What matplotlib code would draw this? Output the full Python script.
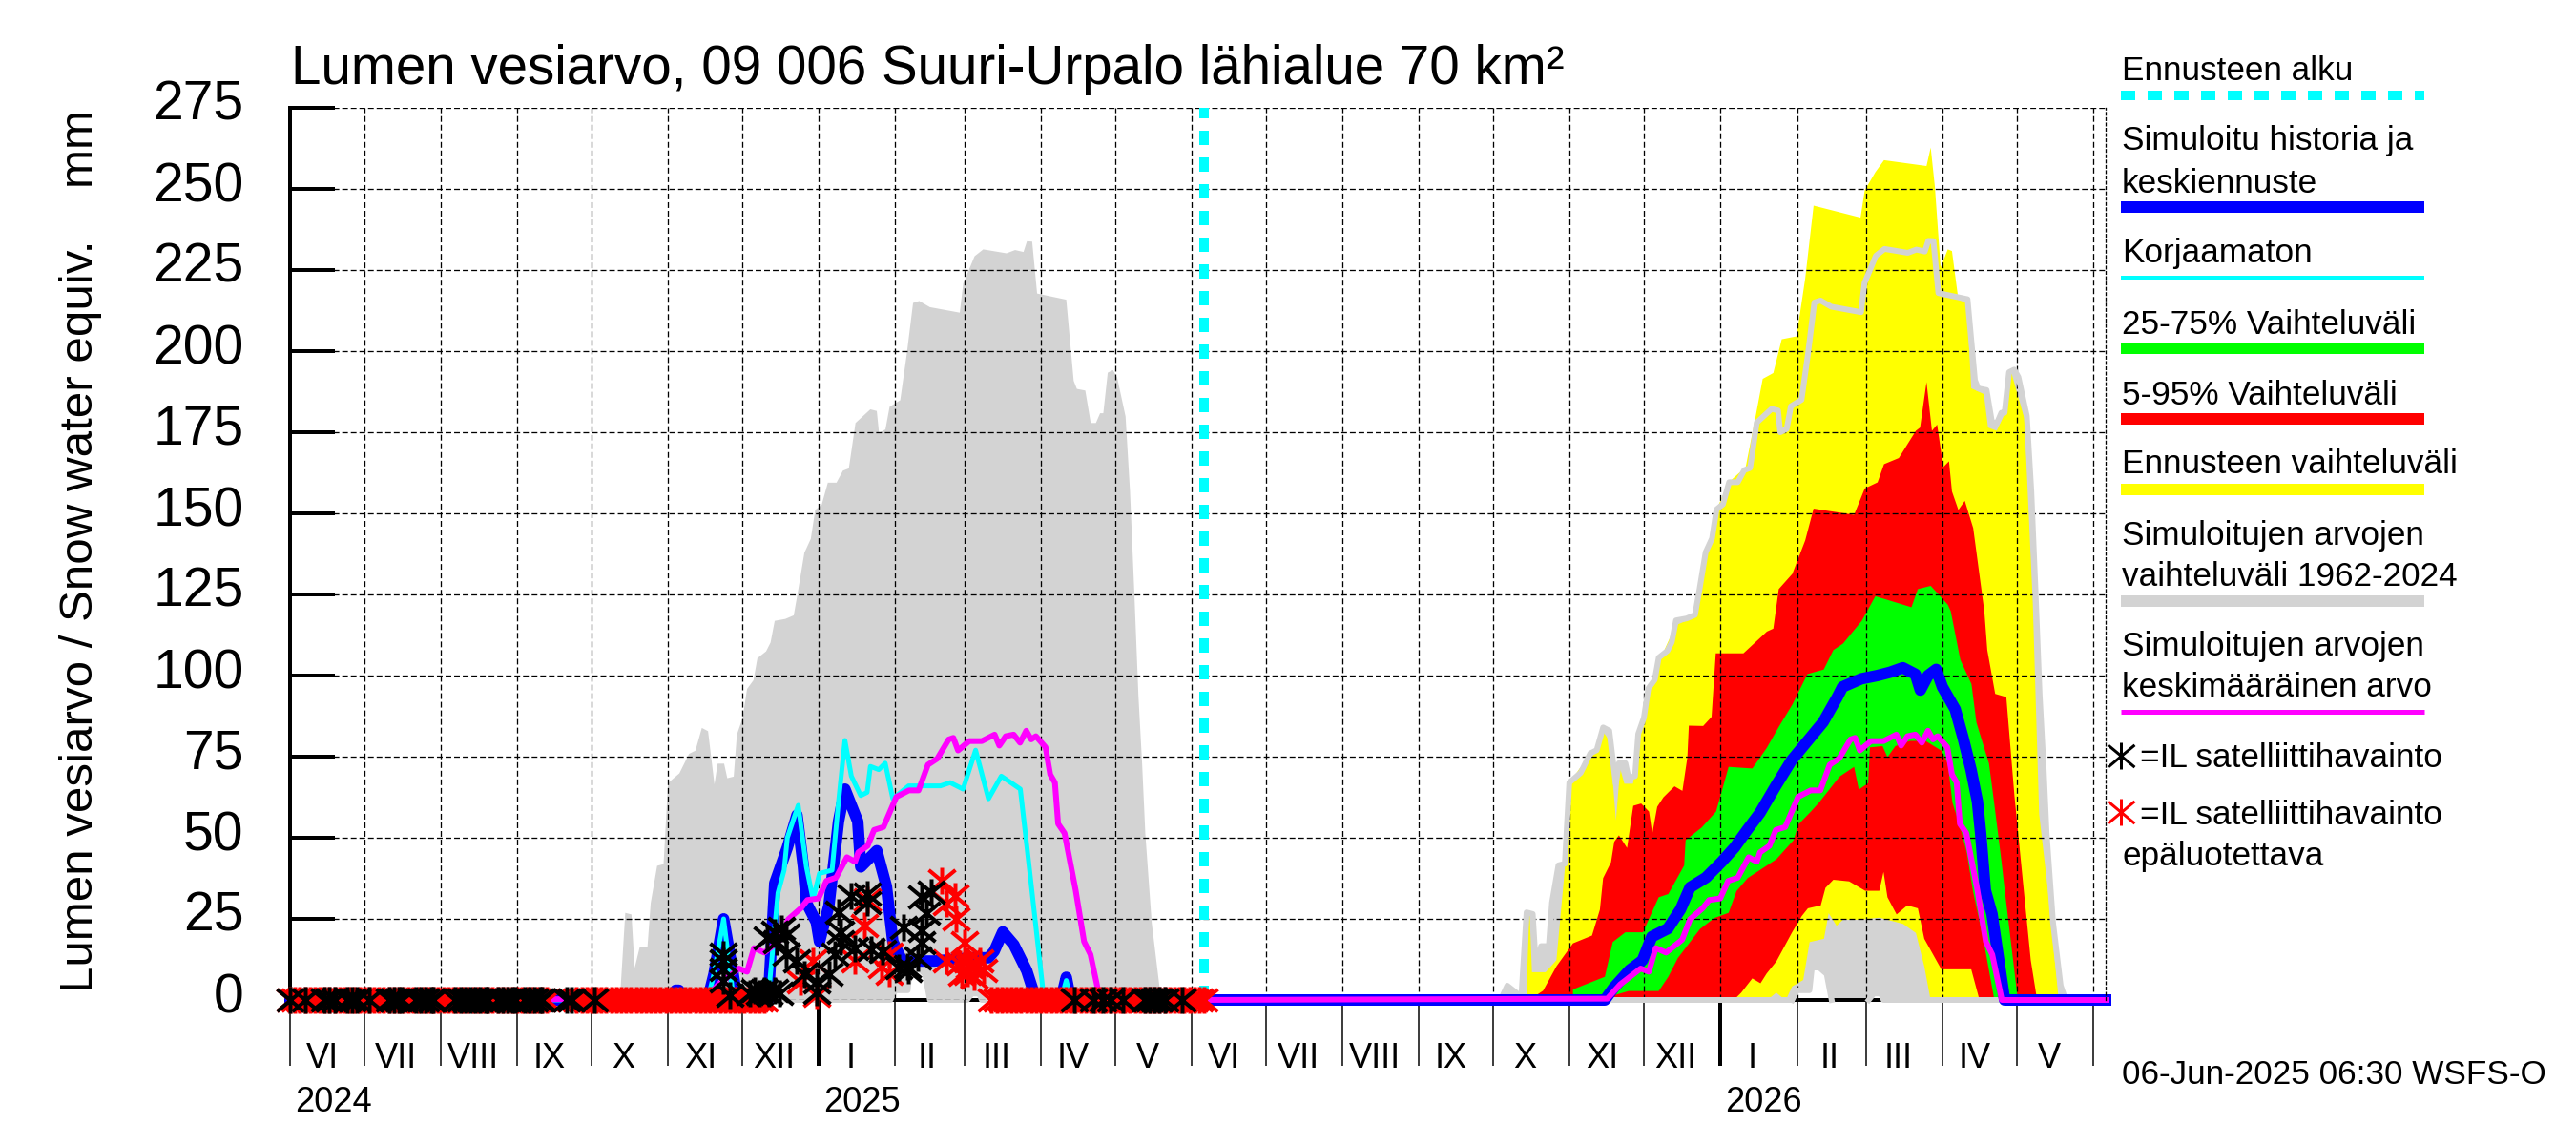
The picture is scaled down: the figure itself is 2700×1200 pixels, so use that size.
import matplotlib
matplotlib.use("Agg")
import matplotlib.pyplot as plt
from matplotlib.lines import Line2D
from matplotlib.path import Path
from matplotlib.transforms import ScaledTranslation

plt.rcParams["font.family"] = ["Liberation Sans", "DejaVu Sans"]
plt.rcParams["lines.scale_dashes"] = False

W, H = 2700, 1200
# asterisk of the original plot: wider diagonals than a regular six-arm star
STAR = Path([(0, -1), (0, 1), (-1, -0.83), (1, 0.83), (-1, 0.83), (1, -0.83)],
            [Path.MOVETO, Path.LINETO, Path.MOVETO, Path.LINETO, Path.MOVETO, Path.LINETO])

# x = days since 1 June 2024
month_days = [0, 30, 61, 92, 122, 153, 183, 214, 245, 273, 304, 334, 365, 395, 426, 457,
              487, 518, 548, 579, 610, 638, 669, 699, 730]
month_names = ["VI", "VII", "VIII", "IX", "X", "XI", "XII", "I", "II", "III", "IV", "V",
               "VI", "VII", "VIII", "IX", "X", "XI", "XII", "I", "II", "III", "IV", "V", "VI"]
year_days = [214, 579]
forecast_start = 370
x_end = 734.9

# simuloitujen arvojen vaihteluväli, upper edge (same for both years)
hist_days = [0, 125, 127.7, 133.4, 135.5, 138, 139.3, 141.4, 144.5, 145.8, 148.4, 151, 152.8, 157.4,
             161.3, 163.9, 166.5, 169, 171.6, 172.9, 175.5, 176.8, 179.4, 180.7, 183, 184.8, 187.4,
             189, 192.5, 194.3, 196, 200.3, 203.7, 205.5, 208, 210.6, 212.4, 215, 217.5, 221, 223.6,
             226, 228.7, 234.7, 237.3, 238.2, 240.8, 242.5, 246.8, 249.4, 252, 254.5, 258.8, 270.9,
             272.3, 276.9, 280.4, 289.8, 293.3, 296.7, 298.1, 300.2, 302.2, 314, 317, 318.3, 321.7,
             323.9, 326, 327.7, 329, 330.8, 332.9, 334.6, 338, 339.8, 341.5, 343.2, 344.7, 346,
             348.6, 351.7, 353.7]
hist_max = [0, 0, 4.4, 1, 27, 26.5, 10, 16.6, 16.6, 30, 41.5, 42, 67, 70,
            76, 77, 84, 83, 66.6, 73, 73, 68.5, 69, 82, 87, 96, 98.7,
            105.5, 107.6, 110.3, 117, 117.6, 118.7, 126.5, 138, 142.3, 151.2, 152.8, 159.6, 159.6, 163.3,
            164, 178, 182.2, 181.7, 175, 176, 183, 185, 199, 215, 215.6, 213.7, 212,
            221, 229.4, 231.5, 230.3, 231.3, 230.7, 234, 233.9, 217.9, 216, 191, 188.5, 188,
            178, 178, 181, 181, 193.5, 194.3, 192, 180, 157, 126.5, 94, 73, 51.4,
            23.9, 4.4, 0]
# lower edge, only lifts off zero in Feb-Mar
hist_min_days = [0, 243, 245, 250, 251, 254, 257, 259, 274, 276, 279, 280, 354]
hist_min = [0, 0, 3, 3, 10, 10, 8, 0, 0, 2, 2, 0, 0]

# ennusteen vaihteluväli
yellow_days = [500.3, 501.5, 502.5, 508, 512.4, 515.8, 517.5, 521.8, 527, 531.3, 533.9, 536.5, 538.2,
               539.9, 543.4, 546.8, 549.4, 554.5, 560.6, 569.2, 571.8, 576.1, 582.1, 589, 592.4, 595.9,
               600.2, 603.6, 609.6, 613.1, 616.5, 635.5, 637.2, 641.5, 645, 662.2, 663.9, 665.6, 667.9,
               669, 670.8, 672.5, 675.1, 678.5, 680.3, 685.4, 687.1, 690.6, 694, 696.6, 701.8, 705.2,
               707.8, 711.2, 715.6]
yellow_top = [3, 28, 8.7, 8.7, 12.4, 40.5, 66.8, 71.5, 75.2, 82.8, 80, 55.5, 71.5,
              66.8, 66.8, 85.6, 94, 105.3, 115.6, 118.4, 130.6, 149.4, 159.7, 164.4, 177.5, 191.6,
              193.4, 203.8, 204.7, 222.5, 245, 241.3, 249.7, 255.3, 259, 257.2, 262.9, 250.7, 226,
              228, 231.5, 231, 216, 215, 188.7, 186.9, 176.6, 175.6, 181, 193.4, 179.4, 123,
              57.4, 35, 1]
yellow_low_days = [500, 597.5, 601.4, 605.2, 607.8, 612.3, 614.9, 620.7, 622.6, 625.8, 628.4, 634.8,
                   643.2, 652.7, 657.9, 661.3, 663.9, 716]
yellow_low = [0, 0, 2.4, 0, 4.3, 6.3, 18, 19, 26.9, 23, 24.9, 24.9,
              25.5, 23.6, 20.8, 10.5, 0, 0]

# 5-95 %
red_days = [501, 507, 512.4, 519.1, 526.8, 530, 531.3, 534.5, 535.8, 537.7, 541, 543.5, 546.7, 549.9,
            551.2, 553.2, 555.7, 560.2, 563.4, 565.4, 566, 571.8, 575.2, 576.9, 588.1, 597.6, 600.2,
            602.4, 607.9, 613.1, 616.5, 632.9, 637.2, 642.4, 645, 651, 657.9, 659.6, 662.2, 664.4,
            666.5, 669, 671.3, 672.5, 675.1, 677.7, 681.1, 685.6, 686.8, 690, 694.5, 697.8, 701.6,
            704.4, 707]
red_top = [0, 3, 10.5, 17.6, 20, 28, 37.7, 42.6, 48.9, 50.9, 47, 60, 60.7, 58.2,
           51.4, 59.7, 62.6, 66, 64.6, 74.9, 84.7, 84.6, 87.4, 107, 107, 113.7, 114.6,
           126.8, 131.5, 141.8, 151.6, 149.7, 157.8, 159.7, 165.3, 167.2, 175.6, 176.6, 190.6, 175.6,
           177.5, 164.4, 166.2, 156.9, 151.2, 154, 145.6, 120, 108, 94.5, 93.5, 63, 33.8,
           12.4, 0]
red_low_days = [501, 584, 587.2, 591.7, 595, 597.5, 601.4, 607.8, 611.7, 614.2, 619.4, 621.3, 624.5,
                630.9, 637.4, 643.1, 644.8, 646.4, 650.1, 654.4, 658.7, 661.3, 668.2, 680.3, 683.7, 707]
red_low = [0, 0, 2.4, 6.8, 5.3, 8.3, 12, 21, 26, 28.4, 29.3, 34.7, 37.2,
           36.7, 33.8, 33.8, 39.6, 31.8, 26.5, 29.3, 28.4, 19, 9.6, 9.6, 0, 0]

# 25-75 %
green_days = [519.1, 532, 535.2, 540.3, 547.4, 553.8, 557.7, 564.1, 564.7, 571.2, 577, 582.1, 591.7, 597.5,
              602.7, 607.9, 614, 620.6, 624.5, 628.4, 636, 641.5, 648.4, 656.1, 658.7, 663.9, 670.8, 672,
              675.9, 680.4, 682.4, 687.5, 689.4, 692.6, 693.9, 699.2]
green_top = [3.4, 7.3, 18, 21, 21, 31.8, 32.8, 41.6, 49.4, 53.3, 58.2, 72, 71.5, 77.8,
             84.7, 91.2, 100.6, 102, 108, 110, 117, 124.6, 123, 121.2, 126.8, 127.8, 122, 120,
             105, 97.5, 85.7, 73, 62, 42.6, 33.8, 0]
green_low_days = [519.1, 532.6, 541.6, 553.8, 557.7, 561.5, 570.5, 576.3, 582.1, 585.3, 589.8, 601.4, 608.4,
                  610.4, 615.5, 618.7, 627, 632.9, 634.8, 638.6, 639.3, 644.4, 646.4, 649.6, 655.4, 661.8,
                  668.2, 670.8, 672.7, 676, 678.5, 681, 685.4, 689.7, 699.2]
green_low = [0, 0.9, 2.9, 2.9, 7.3, 13, 22, 25.4, 27, 33.7, 37.7, 43.5, 49.4,
             54.3, 58.3, 61, 69, 72, 65, 67, 78, 78.4, 75, 78.4, 80, 80,
             77, 73, 61, 53, 45.5, 33.8, 18, 0, 0]

# simuloitu historia ja keskiennuste
blue_days = [0, 154, 156.1, 157.4, 159, 169, 171.6, 175.5, 179.4, 181, 193.6, 196.2, 201.3, 205.2, 207.8,
             209, 213, 214.3, 218.1, 222, 224.6, 229.8, 231, 237.5, 241.4, 244, 247.8, 260.7, 276.2,
             282.7, 285, 288.5, 293, 298.2, 302, 312, 314.2, 316, 370,
             532.2, 535.8, 542.2, 547.4, 551.2, 557.7, 562.8, 566.7, 573.1, 579.5, 584.7, 589.8, 595,
             601.4, 607.8, 614.2, 620.6, 626.4, 628.4, 636, 642.5, 647.6, 652.8, 657.9, 659.9, 663,
             666.3, 668.8, 674, 677.2, 680.4, 683, 684.3, 686.2, 688.9, 694, x_end]
blue_vals = [0, 0, 3, 3, 0, 0, 8, 25, 8, 0, 0, 36, 47, 57, 41,
             30, 24, 18, 29, 55, 65, 55, 41, 46, 35, 18, 12, 12, 13,
             13, 15, 21, 17, 9, 0, 0, 7, 0, 0,
             0, 3.8, 9.2, 12.2, 19.5, 22, 27.9, 34.7, 37.7, 42.6, 47, 52.4, 57.7,
             66, 73.9, 79.8, 85.7, 93.5, 96.5, 99, 100, 101, 102.4, 100.4, 95.5, 100,
             101.9, 96.5, 89.6, 80.8, 71, 61.2, 51.4, 33.8, 26.5, 0, 0]

# korjaamaton
cyan_days = [0, 154, 156.1, 157.4, 159, 169, 171.6, 175.5, 179.4, 193.6, 197.5, 200, 201.3, 205.7, 209,
             211.7, 214.3, 219.4, 222, 224.6, 227.2, 231, 233.6, 234.9, 238.3, 240.9, 244, 250.4, 263.3,
             267.2, 272.4, 277.5, 282.7, 287.9, 295.6, 299.5, 305.2, 312, 314.2, 316, 370]
cyan_vals = [0, 0, 3, 3, 0, 0, 8, 25, 1, 1, 33, 40, 50, 60, 41,
             31, 39, 40, 61, 80, 69, 63, 64, 72, 71, 73, 62, 66, 66,
             67, 65, 77, 62, 69, 65, 39, 0, 0, 6, 0, 0]

# simuloitujen arvojen keskimääräinen arvo (same for both years)
mean_days = [0, 168.2, 173.4, 181.7, 185, 187.8, 192, 198.5, 201.7, 206.8, 209.4, 213.9, 217.1, 221, 225.4,
             228.7, 230, 233.8, 236.4, 240.2, 245.4, 250.5, 254.4, 258.2, 262, 266.6, 268.5, 270.4, 274.9,
             280, 285.2, 287.1, 289.7, 292.9, 295.5, 298, 300, 301.9, 305.8, 307.7, 309.6, 310.9, 313.5,
             316, 318, 321.4, 324, 327.9, 370]
mean_vals = [0, 0.4, 4.8, 9.7, 8.7, 16, 14.6, 18.6, 24.9, 28.3, 30.8, 31.3, 36.7, 37.7, 44,
             42.6, 45.5, 47.5, 52.4, 53.3, 62.6, 64.6, 64.6, 72.5, 74.4, 80.3, 80.8, 76.9, 79.8,
             79.8, 81.8, 78.4, 81.3, 81.8, 79.3, 83, 80.3, 81.3, 77.9, 69.5, 67, 54.3, 51.4,
             41.6, 33.8, 18, 14, 0, 0]

# satelliittihavainnot
black_zero_days = [0, 6, 14, 16, 18, 23, 25, 27, 32, 40, 42, 44, 45, 51, 53, 55, 57, 58, 67, 69, 71, 73,
                   75, 77, 79, 80, 84, 86, 88, 90, 91, 95, 97, 99, 101, 102, 112, 114, 123,
                   317.6, 325, 329, 332, 337, 346, 348, 350, 352, 354, 361]
black_days = [175.5, 175.5, 175.5, 175.5, 178, 186, 188, 190, 192, 194, 196, 198, 193, 196, 197, 199, 201,
              201, 205, 208, 213, 213, 218, 220.7, 223, 222, 227, 233.7, 233.6, 223, 228.5, 235,
              240, 246.5, 249.7, 250.4, 248.4, 255.5, 255.5, 254.2, 255.5, 259.4, 257.5]
black_vals = [14, 12, 9.5, 6, 1.5, 2, 3, 2, 3, 2, 3, 2, 19, 21, 18, 22, 20,
              14, 12, 8, 5.5, 2.5, 8, 14, 18, 27, 32, 32.7, 30, 21, 16, 15.6,
              15, 10, 10.2, 9.2, 22.4, 21.5, 17.6, 13, 31.8, 33.2, 26.9]
red_zero_days = [0, 2, 4, 6, 8, 10, 12, 14, 16, 18, 20, 22, 24, 26, 28, 30, 32, 34, 36, 38, 40, 42, 44, 46,
                 48, 50, 52, 54, 56, 58, 60, 62, 64, 66, 68, 70, 72, 74, 76, 78, 80, 82, 84, 86, 88, 90, 92,
                 94, 96, 98, 100, 102, 104, 116, 118, 120, 122, 124, 126, 128, 130, 132, 134, 136, 138, 140,
                 142, 144, 146, 148, 150, 152, 154, 156, 158, 160, 162, 164, 166, 168, 170, 172, 174, 176,
                 178, 180, 182, 184, 186, 188, 190, 192,
                 284, 286, 288, 290, 292, 294, 296, 298, 300, 302, 304, 306, 308, 310, 312, 314, 316, 318,
                 320, 322, 324, 326, 328, 330, 332, 334, 336, 338, 340, 342, 344, 346, 348, 350, 352, 354,
                 356, 358, 360, 362, 364, 366, 368, 370]
red_star_days = [263.9, 269, 265.8, 269.7, 272.9, 232.4, 233.6, 211.7, 206.5, 213, 228.5, 239.4, 242.7,
                 265.8, 274.8, 277.4, 280.6, 271, 279.3, 274.2, 274.2, 242.7, 277, 272]
red_star_vals = [36.7, 32.2, 29.8, 24.9, 17.6, 23, 31, 12, 5.5, 1.5, 12, 10.2, 8.2,
                 12.2, 10.2, 11, 9.2, 11.2, 12.2, 12.2, 8.2, 14, 7, 8]

y_ticks = [0, 25, 50, 75, 100, 125, 150, 175, 200, 225, 250, 275]

# legend: text rows and lines, (text, y centre in px)
legend_texts = [("Ennusteen alku", 75), ("Simuloitu historia ja", 148), ("keskiennuste", 192),
                ("Korjaamaton", 265), ("25-75% Vaihteluväli", 340), ("5-95% Vaihteluväli", 414),
                ("Ennusteen vaihteluväli", 487), ("Simuloitujen arvojen", 561),
                ("vaihteluväli 1962-2024", 604), ("Simuloitujen arvojen", 678),
                ("keskimääräinen arvo", 721), ("epäluotettava", 897)]
legend_lines = [(100, "cyan", 10), (217, "blue", 12), (291, "cyan", 4), (365, "lime", 12),
                (439, "red", 12), (513, "yellow", 12), (630, "lightgray", 12), (746, "magenta", 5)]

fig = plt.figure(figsize=(27, 12), dpi=100, facecolor="white")
ax = fig.add_axes([304 / W, 1 - 1048 / H, (2207 - 304) / W, (1048 - 113) / H])
ax.set_xlim(0, x_end)
ax.set_ylim(0, 275)
px = 0.72  # points per pixel

ax.axhline(0, color="black", lw=4 * px, zorder=0.5, clip_on=False)

hist_days2 = [d + 365 for d in hist_days]
hist_min_days2 = [d + 365 for d in hist_min_days]
mean_days2 = [d + 365 for d in mean_days]

# historic range first, then the forecast bands painted from the outside in
for days in (hist_days, hist_days2):
    ax.fill_between(days, hist_max, color="lightgray", lw=0, zorder=0.8)
ax.fill_between(yellow_days, yellow_top, color="yellow", lw=0, zorder=0.81)
ax.fill_between(red_days, red_top, color="red", lw=0, zorder=0.82)
ax.fill_between(green_days, green_top, color="lime", lw=0, zorder=0.83)
ax.fill_between(green_low_days, green_low, color="red", lw=0, zorder=0.84)
ax.fill_between(red_low_days, red_low, color="yellow", lw=0, zorder=0.85)
ax.fill_between(yellow_low_days, yellow_low, color="lightgray", lw=0, zorder=0.86)
for days in (hist_min_days, hist_min_days2):
    ax.fill_between(days, hist_min, color="white", lw=0, zorder=0.87)
ax.plot([0, x_end], [0, 0], color="black", lw=4 * px, zorder=0.88, clip_on=False)
ax.plot(hist_min_days, hist_min, color="lightgray", lw=6 * px, clip_on=False, zorder=0.89)

# grid and ticks
ax.set_xticks(month_days)
ax.set_xticklabels([])
ax.set_yticks(y_ticks)
ax.grid(True, color="black", lw=1.3 * px, linestyle=(0, (4.3, 2.2)))
ax.tick_params(axis="y", direction="in", length=47 * px, width=4 * px, labelsize=41, pad=35)
ax.tick_params(axis="x", direction="out", length=69 * px, width=1.5 * px)
for t, d in zip(ax.xaxis.get_major_ticks(), month_days):
    if d in year_days:
        t.tick1line.set_markeredgewidth(4 * px)
shift_up = ScaledTranslation(0, 8 / 100, fig.dpi_scale_trans)
for lab in ax.get_yticklabels():
    lab.set_transform(lab.get_transform() + shift_up)
ax.spines["left"].set_linewidth(4 * px)
ax.spines["bottom"].set_visible(False)
ax.spines["top"].set_visible(False)
ax.spines["right"].set_linewidth(1.3 * px)
ax.spines["right"].set_linestyle((0, (2, 2)))

# lines
ax.plot(hist_days2, hist_max, color="lightgray", lw=6 * px, clip_on=False, zorder=2)
ax.plot(hist_min_days2[8:], hist_min[8:], color="lightgray", lw=6 * px, clip_on=False, zorder=2)
ax.plot(hist_min_days2[1:8], hist_min[1:8], color="lightgray", lw=6 * px, clip_on=False, zorder=2)
ax.plot([532, hist_min_days2[1]], [0, 0], color="lightgray", lw=6 * px, clip_on=False, zorder=2)
ax.plot(blue_days, blue_vals, color="blue", lw=12 * px, clip_on=False, zorder=2.1, solid_joinstyle="round")
ax.plot(cyan_days, cyan_vals, color="cyan", lw=5 * px, clip_on=False, zorder=2.2)
ax.plot(mean_days, mean_vals, color="magenta", lw=6 * px, clip_on=False, zorder=2.3)
ax.plot(mean_days2, mean_vals, color="magenta", lw=6 * px, clip_on=False, zorder=2.3)
ax.plot([forecast_start, forecast_start], [0, 275], color="cyan", lw=10 * px,
        linestyle=(0, (15 * px, 13 * px)), clip_on=False, zorder=2.4)

# stars
star = dict(ls="", marker=STAR, ms=28 * px, mew=4 * px, clip_on=False)
ax.plot(red_zero_days, [0] * len(red_zero_days), color="red", zorder=3, **star)
ax.plot(red_star_days, red_star_vals, color="red", zorder=3, **star)
ax.plot(black_zero_days, [0] * len(black_zero_days), color="black", zorder=3.1, **star)
ax.plot(black_days, black_vals, color="black", zorder=3.1, **star)

# month and year labels
for i in range(len(month_days) - 1):
    ax.text(month_days[i] + 13, -18, month_names[i], ha="center", va="center", fontsize=26)
ax.text(2, -34.4, "2024", ha="left", va="baseline", fontsize=26)
ax.text(216, -34.4, "2025", ha="left", va="baseline", fontsize=26)
ax.text(581, -34.4, "2026", ha="left", va="baseline", fontsize=26)

# title and y label
fig.text(305 / W, 1 - 88 / H, "Lumen vesiarvo, 09 006 Suuri-Urpalo lähialue 70 km²", fontsize=40.7, ha="left", va="baseline")
fig.text(85 / W, 1 - 578 / H, "Lumen vesiarvo / Snow water equiv.    mm", fontsize=35.5, rotation=90, ha="center", va="center")

# legend
for txt, y in legend_texts:
    fig.text(2224 / W, 1 - y / H, txt, fontsize=25.3, ha="left", va="center")
for y, col, lw in legend_lines:
    style = (0, (15 * px, 13 * px)) if y == 100 else "-"
    fig.add_artist(Line2D([2223 / W, 2541 / W], [1 - y / H] * 2, color=col, lw=lw * px, linestyle=style, solid_capstyle="butt", dash_capstyle="butt"))
fig.add_artist(Line2D([2223 / W], [1 - 792 / H], marker=STAR, ms=28 * px, mew=3 * px, color="black", ls=""))
fig.add_artist(Line2D([2223 / W], [1 - 851 / H], marker=STAR, ms=28 * px, mew=3 * px, color="red", ls=""))
fig.text(2243 / W, 1 - 795 / H, "=IL satelliittihavainto", fontsize=25.3, ha="left", va="center")
fig.text(2243 / W, 1 - 854 / H, "=IL satelliittihavainto", fontsize=25.3, ha="left", va="center")
fig.text(2224 / W, 1 - 1127 / H, "06-Jun-2025 06:30 WSFS-O", fontsize=25.3, ha="left", va="center")

fig.savefig("out.png", dpi=100)
